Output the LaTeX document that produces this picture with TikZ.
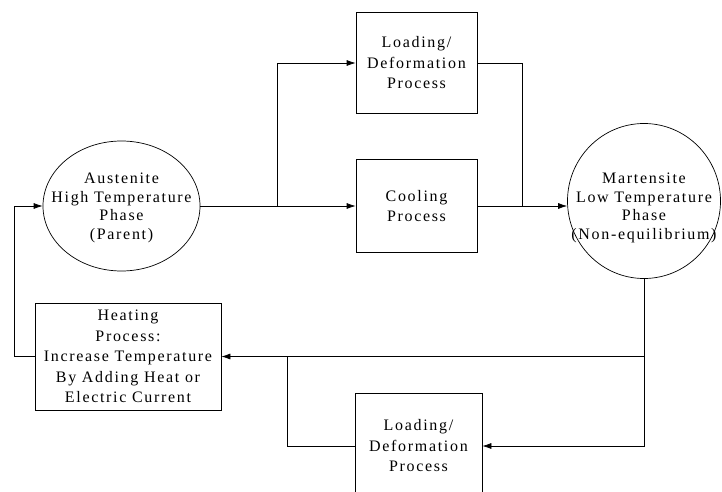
\documentclass[tikz,border=0pt]{standalone}
\usepackage{fontspec}
\setmainfont[LetterSpace=10.5]{Liberation Serif}
\usetikzlibrary{arrows.meta,shapes,positioning,calc}

\begin{document}
\begin{tikzpicture}[x=1pt,y=-1pt,line width=0.7pt,
	proc/.style={rectangle,draw,align=center,inner sep=2pt,font=\fontsize{16}{20.5}\selectfont},
	phase/.style={ellipse,draw,inner sep=0pt},
	phasetext/.style={align=center,inner sep=0pt,font=\fontsize{16}{18.5}\selectfont},
	>={Latex[length=9pt,width=6pt]}]
	\useasboundingbox (0,0) rectangle (722,492);

	\node[phase,minimum width=157pt,minimum height=130pt] at (121.5,206) (aus) {};
	\node[phasetext] at (121.5,208) (aus-t) {Austenite\\High Temperature\\Phase\\(Parent)};
	\node[proc,minimum width=121pt,minimum height=101pt] at (416.5,63) (load1) {Loading/\\Deformation\\Process};
	\node[proc,minimum width=121pt,minimum height=93pt] at (416.5,206) (cool) {Cooling\\Process};
	\node[phase,minimum width=153pt,minimum height=155pt] at (644,201) (mar) {};
	\node[phasetext] at (644,208) (mar-t) {Martensite\\Low Temperature\\Phase\\(Non-equilibrium)};
	\node[proc,minimum width=186pt,minimum height=107pt] at (128,356.5) (heat) {Heating\\Process:\\Increase Temperature\\By Adding Heat or\\Electric Current};
	\node[proc,minimum width=127pt,minimum height=106pt] at (418.5,446) (load2) {Loading/\\Deformation\\Process};

	% cooling branch
	\coordinate (j1) at (277,206);
	\coordinate (j2) at (522,206);
	\draw[->] (aus.east) -- (cool.west);
	\draw[->] (j1) |- (load1.west);
	\draw (load1.east) -| (j2);
	\draw (cool.east) -- (j2);
	\draw[->] (j2) -- (j2 -| mar.west);

	% heating branch
	\coordinate (j3) at (287,356.5);
	\coordinate (j4) at (14,356.5);
	\draw[->] (mar.south) |- (load2.east);
	\draw[->] (mar.south |- heat.east) -- (heat.east);
	\draw (load2.west) -| (j3);
	\draw[->] (heat.west) -- (j4) |- (aus.west);
\end{tikzpicture}
\end{document}
